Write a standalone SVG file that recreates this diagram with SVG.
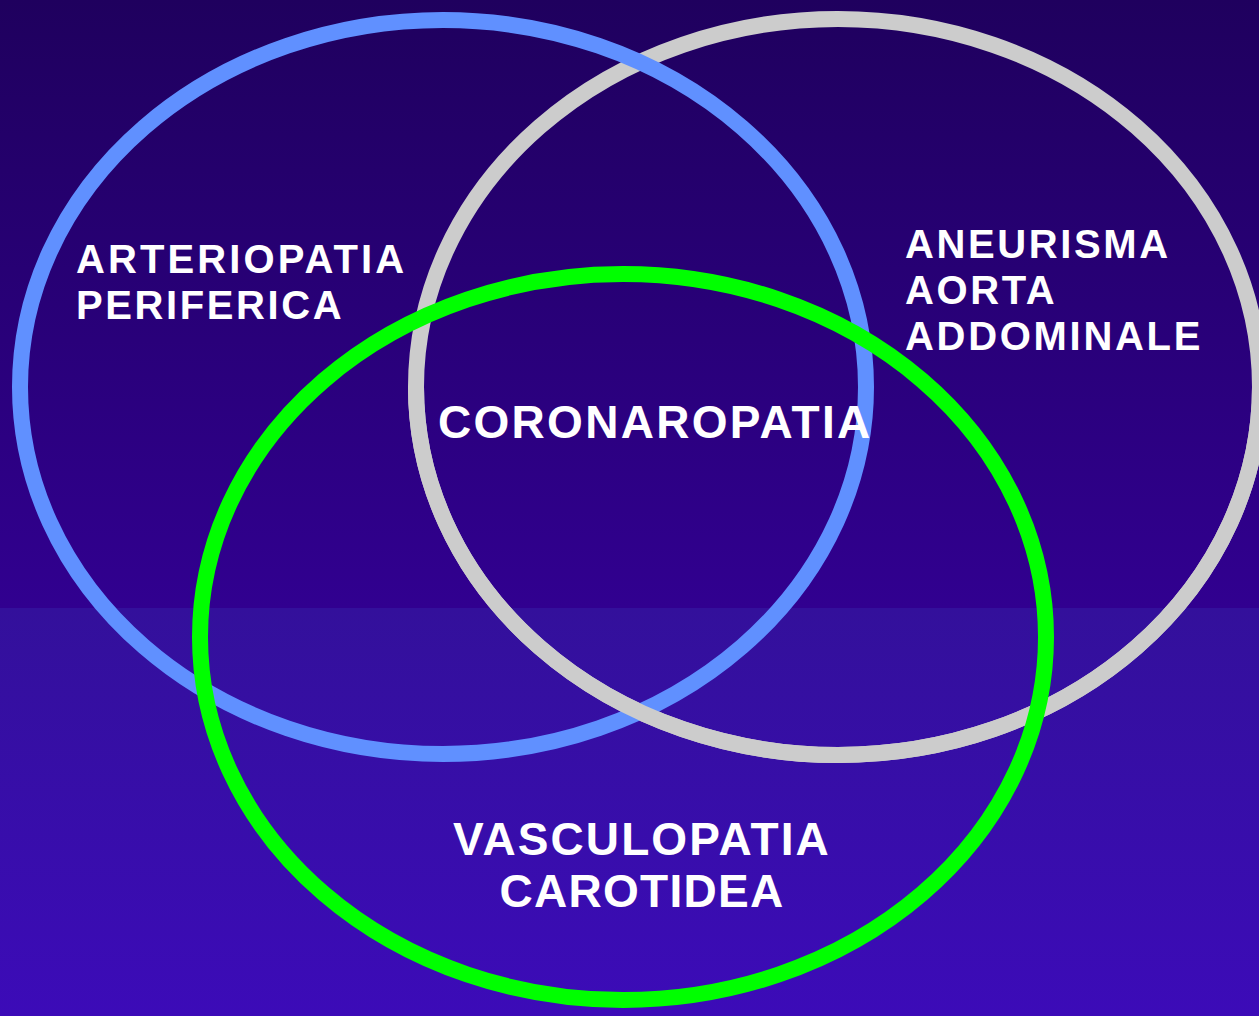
<svg xmlns="http://www.w3.org/2000/svg" width="1259" height="1016" viewBox="0 0 1259 1016">
<defs>
<linearGradient id="bgTop" x1="0" y1="0" x2="0" y2="1">
<stop offset="0" stop-color="#1f005e"/>
<stop offset="1" stop-color="#310090"/>
</linearGradient>
<linearGradient id="bgBot" x1="0" y1="0" x2="0" y2="1">
<stop offset="0" stop-color="#33109b"/>
<stop offset="1" stop-color="#3c0bb8"/>
</linearGradient>
<clipPath id="lowerHalf"><rect x="0" y="387" width="1259" height="629"/></clipPath>
<style>
.ring{fill:none;stroke-width:16}
.blue{stroke:#6090ff}
.gray{stroke:#cccccc}
.green{stroke:#00ff00}
.lbl{font-family:"Liberation Sans",Arial,sans-serif;font-weight:bold;fill:#ffffff}
</style>
</defs>
<rect x="0" y="0" width="1259" height="608" fill="url(#bgTop)"/>
<rect x="0" y="608" width="1259" height="408" fill="url(#bgBot)"/>
<g id="connectors"/>
<g id="node-aneurisma">
<ellipse class="ring gray" cx="838" cy="387" rx="422" ry="368"/>
</g>
<g id="node-arteriopatia">
<ellipse class="ring blue" cx="443" cy="387" rx="423" ry="367"/>
</g>
<g id="gray-weave">
<ellipse class="ring gray" cx="838" cy="387" rx="422" ry="368" clip-path="url(#lowerHalf)"/>
</g>
<g id="node-vasculopatia">
<ellipse class="ring green" cx="623" cy="637" rx="423" ry="363"/>
</g>
<g id="labels">
<text class="lbl" font-size="40" letter-spacing="3.1" x="76" y="273">ARTERIOPATIA</text>
<text class="lbl" font-size="40" letter-spacing="2.6" x="76" y="319">PERIFERICA</text>
<text class="lbl" font-size="40" letter-spacing="2.6" x="905" y="258">ANEURISMA</text>
<text class="lbl" font-size="40" letter-spacing="2.6" x="905" y="304">AORTA</text>
<text class="lbl" font-size="40" letter-spacing="2.7" x="905" y="350">ADDOMINALE</text>
<text class="lbl" font-size="46" letter-spacing="2.3" x="438" y="438">CORONAROPATIA</text>
<text class="lbl" font-size="46" letter-spacing="2.1" x="642" y="855" text-anchor="middle">VASCULOPATIA</text>
<text class="lbl" font-size="46" letter-spacing="1.3" x="642" y="907" text-anchor="middle">CAROTIDEA</text>
</g>
</svg>
